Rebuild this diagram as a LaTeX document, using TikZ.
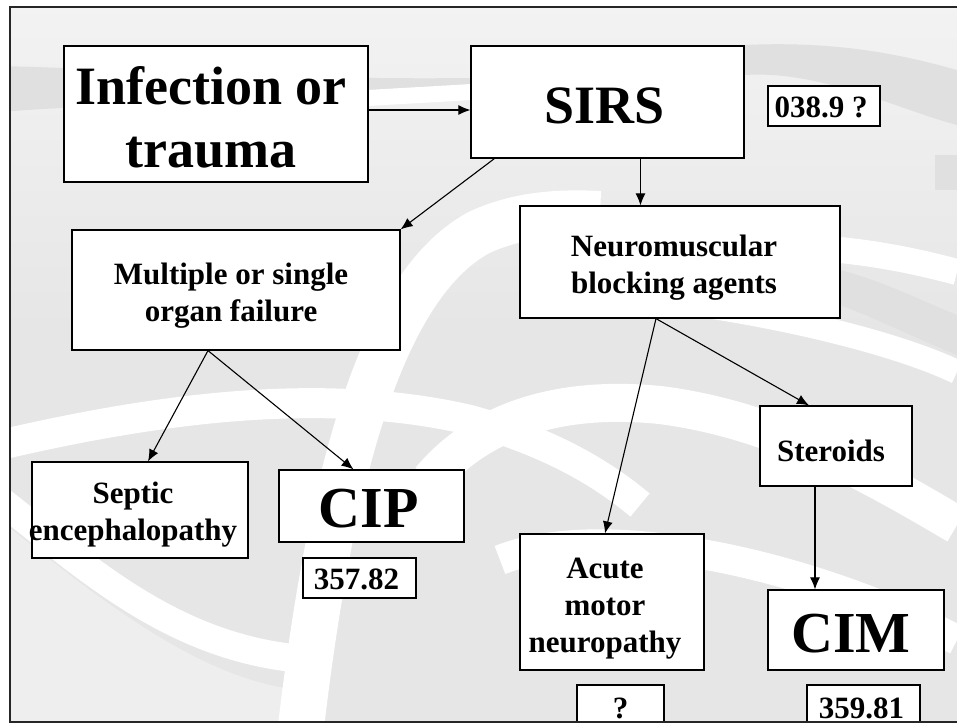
\documentclass[tikz,border=0pt]{standalone}
\usepackage{fontspec}
\setmainfont{Liberation Serif}
\usetikzlibrary{arrows.meta,calc}
\definecolor{bgtop}{HTML}{F3F3F3}
\definecolor{bgbot}{HTML}{E6E6E6}
\definecolor{bgdark}{HTML}{E0E0E0}
\begin{document}
\begin{tikzpicture}[x=1pt,y=-1pt,
  box/.style={draw=black,line width=1.2pt,fill=white,inner sep=0pt},
  txt/.style={inner sep=0pt,align=center},
  big/.style={font=\bfseries\fontsize{54}{63}\selectfont},
  huge/.style={font=\bfseries\fontsize{58}{60}\selectfont},
  mid/.style={font=\bfseries\fontsize{31}{37}\selectfont},
  code/.style={font=\bfseries\fontsize{31}{31}\selectfont},
  conn/.style={line width=1.1pt,-{Latex[length=12pt,width=10pt]}},
  band/.style={draw=white,line cap=butt}]
\useasboundingbox (0,0) rectangle (957,724);
\fill[white] (0,0) rectangle (957,724);
\begin{scope}
\clip (9.5,7) rectangle (957,721.5);
% background
\shade[top color=bgtop,bottom color=bgbot] (0,0) rectangle (957,330);
\fill[bgbot] (0,329) rectangle (957,724);
\fill[bgdark] (0,66) .. controls (150,70) and (300,80) .. (470,78) -- (470,100) .. controls (300,105) and (150,100) .. (0,112) -- cycle;
\fill[bgdark] (745,45) .. controls (850,40) and (920,60) .. (957,70) -- (957,125) .. controls (900,110) and (820,70) .. (745,75) -- cycle;
\fill[bgdark] (840,270) .. controls (880,280) and (920,300) .. (957,315) -- (957,355) .. controls (920,340) and (880,320) .. (840,305) -- cycle;
\fill[bgdark] (935,155) rectangle (957,190);
\fill[bgtop!60!bgbot] (0,520) .. controls (100,600) and (200,680) .. (300,690) -- (300,724) -- (0,724) -- cycle;
% white swooshes
\draw[band,line width=46pt] (300,735) .. controls (325,520) and (370,290) .. (480,232) .. controls (520,214) and (560,212) .. (600,214);
\draw[band,line width=30pt] (0,445) .. controls (150,410) and (320,385) .. (470,420) .. controls (560,445) and (610,480) .. (640,505);
\draw[band,line width=28pt] (0,500) .. controls (90,570) and (180,655) .. (320,660);
\draw[band,line width=38pt] (430,480) .. controls (480,420) and (560,395) .. (660,405) .. controls (780,420) and (880,480) .. (957,525);
\draw[band,line width=24pt] (700,305) .. controls (800,320) and (900,345) .. (957,372);
\draw[band,line width=26pt] (840,250) .. controls (890,255) and (930,265) .. (957,272);
\draw[band,line width=30pt] (500,560) .. controls (600,520) and (800,560) .. (957,640);
\draw[band,line width=16pt] (368,98) .. controls (400,96) and (440,94) .. (471,92);
% boxes
\node[box,minimum width=304pt,minimum height=136pt] (inf) at (216,114) {};
\node[txt,big] (inf-t) at ([xshift=-5pt,yshift=-3pt]inf.center) {Infection or\\trauma};
\node[box,minimum width=273pt,minimum height=112pt] (sirs) at (607.5,102) {};
\node[txt,big] (sirs-t) at ([xshift=-3pt,yshift=-4pt]sirs.center) {SIRS};
\node[box,minimum width=112pt,minimum height=40pt] (c1) at (824,106) {};
\node[txt,code] (c1-t) at ([xshift=-3pt,yshift=-1pt]c1.center) {038.9 ?};
\node[box,minimum width=328pt,minimum height=120pt] (multi) at (236,290) {};
\node[txt,mid] (multi-t) at ([xshift=-5pt,yshift=-6pt]multi.center) {Multiple or single\\organ failure};
\node[box,minimum width=320pt,minimum height=112pt] (neuro) at (680,262) {};
\node[txt,mid] (neuro-t) at ([xshift=-6pt,yshift=-6pt]neuro.center) {Neuromuscular\\blocking agents};
\node[box,minimum width=216pt,minimum height=96pt] (septic) at (140,510) {};
\node[txt,mid] (septic-t) at ([xshift=-7pt,yshift=-5pt]septic.center) {Septic\\encephalopathy};
\node[box,minimum width=185pt,minimum height=72pt] (cip) at (371.5,506) {};
\node[txt,huge] (cip-t) at ([xshift=-3pt,yshift=-3pt]cip.center) {CIP};
\node[box,minimum width=113pt,minimum height=40pt] (c2) at (359.5,578) {};
\node[txt,code] (c2-t) at ([xshift=-3pt,yshift=-1pt]c2.center) {357.82};
\node[box,minimum width=184pt,minimum height=136pt] (acute) at (612,602) {};
\node[txt,mid] (acute-t) at ([xshift=-7pt,yshift=-7pt]acute.center) {Acute\\motor\\neuropathy};
\node[box,minimum width=152pt,minimum height=80pt] (ster) at (836,446) {};
\node[txt,mid] (ster-t) at ([xshift=-5pt,yshift=-5pt]ster.center) {Steroids};
\node[box,minimum width=176pt,minimum height=80pt] (cim) at (856,630) {};
\node[txt,huge] (cim-t) at ([xshift=-5pt,yshift=-4pt]cim.center) {CIM};
\node[box,minimum width=87pt,minimum height=44pt] (c3) at (620.5,707) {};
\node[txt,code] (c3-t) at ([yshift=-1pt]c3.center) {?};
\node[box,minimum width=113pt,minimum height=44pt] (c4) at (863.5,707) {};
\node[txt,code] (c4-t) at ([xshift=-2pt,yshift=-1pt]c4.center) {359.81};
% connectors
\draw[conn] ([yshift=4pt]inf.east) -- ([yshift=4pt]inf.east -| sirs.west);
\draw[conn] ([xshift=24pt]sirs.south west) -- (multi.north east);
\draw[conn] ([xshift=33pt]sirs.south) -- ([xshift=33pt]sirs.south |- neuro.north);
\draw[conn] ([xshift=-28pt]multi.south) -- ([xshift=8pt]septic.north);
\draw[conn] ([xshift=-28pt]multi.south) -- ([xshift=-18pt]cip.north);
\draw[conn] ([xshift=-24pt]neuro.south) -- ([xshift=-7pt]acute.north);
\draw[conn] ([xshift=-24pt]neuro.south) -- ([xshift=-27pt]ster.north);
\draw[conn] ([xshift=-21pt]ster.south) -- ([xshift=-21pt]ster.south |- cim.north);
\end{scope}
% slide frame
\draw[line width=2pt,black!85] (957,7) -- (9.5,7) -- (9.5,721.5) -- (957,721.5);
\end{tikzpicture}
\end{document}
